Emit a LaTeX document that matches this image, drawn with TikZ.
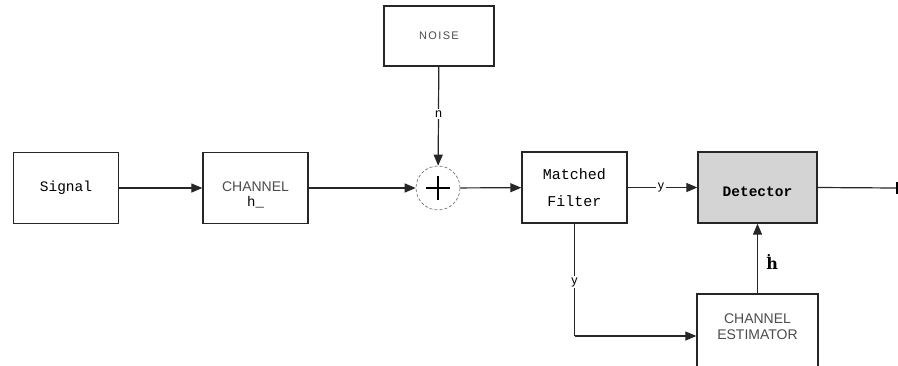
\documentclass[tikz,border=0pt]{standalone}
\usepackage{fontspec}
\setmainfont{Liberation Sans}
\newfontfamily\monofont{Liberation Mono}
\newfontfamily\hatfont{DejaVu Serif}
\newfontfamily\widesans[LetterSpace=12]{Liberation Sans}
\usetikzlibrary{arrows.meta,calc}
\newcommand{\stack}[2]{\begin{tabular}{@{}c@{}}#1\\#2\end{tabular}}
% move text up or down inside a block without changing its size
\newcommand{\nudge}[2]{\raisebox{#1}[\height][\depth]{#2}}
\begin{document}
\begin{tikzpicture}[x=1pt,y=-1pt,
  blk/.style={draw=black!85,line width=1.3pt,fill=white,minimum width=105pt,minimum height=71pt,inner sep=0pt},
  mono/.style={font=\monofont\fontsize{14.5}{17}\selectfont},
  caps/.style={font=\fontsize{14}{16}\selectfont,text=black!70},
  link/.style={line width=1.2pt,draw=black!85,-{Triangle[length=11pt,width=9pt]}},
  wire/.style={line width=1.2pt,draw=black!85},
  lbl/.style={fill=white,inner sep=1.5pt,font=\fontsize{12.5}{14}\selectfont}]
\useasboundingbox (0,0) rectangle (898,365);
\begin{scope}
\clip (0,0) rectangle (898,365);

% blocks
\node[blk,caps] (ch) at (255.5,188)
  {\nudge{-8pt}{\renewcommand{\arraystretch}{0.95}\stack{CHANNEL}{\textcolor{black}{\monofont h\_}}}};
\node[blk,mono] (sig) at (66,188) {Signal};
\node[blk,font=\widesans\fontsize{11}{13}\selectfont,text=black!70,minimum width=110pt,minimum height=60pt] (noise) at (439,36) {NOISE};
\node[circle,draw=black!60,densely dashed,line width=0.6pt,minimum size=44pt,inner sep=0pt] (sum) at (438,188) {};
\draw[line width=1.2pt] ($(sum.center)+(-12,0)$) -- ++(24,0) ($(sum.center)+(0,-12)$) -- ++(0,24);
\node[blk,mono,font=\monofont\fontsize{15}{17}\selectfont,align=center] (mf) at (574.5,187.5) {Matched\\[10pt]Filter};
\node[blk,font=\monofont\bfseries\fontsize{14.5}{17}\selectfont,fill=black!17,minimum width=119pt] (det) at (757.5,187.5) {\nudge{-4pt}{Detector}};
\node[blk,caps,minimum width=121pt,minimum height=84pt] (est) at (757.5,336)
  {\nudge{7.5pt}{\renewcommand{\arraystretch}{1.0}\stack{CHANNEL}{ESTIMATOR}}};
\coordinate (out) at (897,188);
\coordinate (bend) at (mf.south |- est.west);

% connectors
\draw[link] (sig) -- (ch);
\draw[link] (ch) -- (sum);
\draw[link] (noise) -- node[lbl,pos=0.48] {n} (sum);
\draw[link] (sum) -- (mf);
\draw[link] (mf) -- node[lbl,pos=0.48] {y} (det);
\draw[wire] (mf.south) -- node[lbl,pos=0.52] {y} (bend);
\draw[link] (bend) -- (est.west);
\draw[link] (est.north) -- node[right=5pt,pos=0.45,font=\hatfont\bfseries\fontsize{16}{18}\selectfont] {ḣ} (det.south);
\draw[wire] (det.east) -- (out);
\draw[line width=2pt] ($(out)+(0,-6)$) -- ($(out)+(0,6)$);
\end{scope}
\end{tikzpicture}
\end{document}
